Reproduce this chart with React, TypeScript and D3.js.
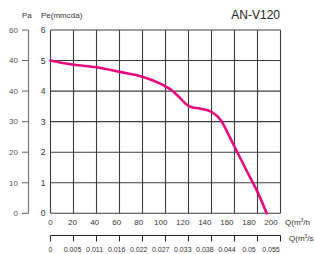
import React, { useRef, useEffect } from 'react';
import * as d3 from 'd3';

const flowM3h = [0, 20, 40, 60, 80, 95, 107, 113, 118, 123, 130, 140, 148, 155, 162, 171, 180, 188];
const pressureMmcda = [5.0, 4.86, 4.78, 4.63, 4.47, 4.25, 3.98, 3.76, 3.57, 3.47, 3.43, 3.32, 3.05, 2.56, 2.03, 1.36, 0.7, 0];

const xTicks = [0, 20, 40, 60, 80, 100, 120, 140, 160, 180, 200];
const yTicks = [0, 1, 2, 3, 4, 5, 6];
const paLabels = ['0', '10', '20', '30', '40', '40', '60'];
const m3sLabels = ['0', '0.005', '0.011', '0.016', '0.022', '0.027', '0.033', '0.038', '0.044', '0.05', '0.055'];

const App = () => {
  const svgRef = useRef(null);

  useEffect(() => {
    const svg = d3.select(svgRef.current);
    svg.selectAll('*').remove();

    const font = '"Liberation Sans", Arial, sans-serif';
    const textColor = '#333';

    const x = d3.scaleLinear().domain([0, 200]).range([50.5, 280.5]);
    const y = d3.scaleLinear().domain([0, 6]).range([213.3, 30]);
    // tick labels in the source drift slightly left of their ticks
    const xLabel = d3.scaleLinear().domain([0, 200]).range([50.5, 271]);

    const g = svg.append('g').attr('font-family', font).attr('fill', textColor);

    // grid
    g.selectAll('.vline')
      .data(xTicks)
      .enter().append('line')
      .attr('x1', d => x(d)).attr('x2', d => x(d))
      .attr('y1', y(0)).attr('y2', y(6))
      .attr('stroke', '#3c3c3c').attr('stroke-width', 1.1);

    g.selectAll('.hline')
      .data(yTicks)
      .enter().append('line')
      .attr('x1', x(0)).attr('x2', x(200))
      .attr('y1', d => y(d)).attr('y2', d => y(d))
      .attr('stroke', '#3c3c3c').attr('stroke-width', 1.1);

    // mmcda labels
    g.selectAll('.ylab')
      .data(yTicks)
      .enter().append('text')
      .attr('x', 43).attr('y', d => y(d)).attr('dy', '0.35em')
      .attr('text-anchor', 'middle').attr('font-size', 8.5)
      .text(d => d);

    // Pa axis
    const paX = 28.5;
    g.append('line')
      .attr('x1', paX).attr('x2', paX).attr('y1', y(0)).attr('y2', y(6))
      .attr('stroke', '#777').attr('stroke-width', 1.2);
    g.selectAll('.patick')
      .data(yTicks)
      .enter().append('line')
      .attr('x1', 22).attr('x2', paX).attr('y1', d => y(d)).attr('y2', d => y(d))
      .attr('stroke', '#666').attr('stroke-width', 1);
    g.selectAll('.palab')
      .data(yTicks)
      .enter().append('text')
      .attr('x', 18).attr('y', d => y(d)).attr('dy', '0.35em')
      .attr('text-anchor', 'end').attr('font-size', 8)
      .attr('fill', '#555')
      .text((d, i) => paLabels[i]);

    g.append('text').attr('x', 22).attr('y', 18).attr('font-size', 8).text('Pa');
    g.append('text').attr('x', 41).attr('y', 18).attr('font-size', 8).text('Pe(mmcda)');
    g.append('text').attr('x', 280).attr('y', 19).attr('text-anchor', 'end')
      .attr('font-size', 12).attr('fill', '#222').text('AN-V120');

    // primary x labels
    g.selectAll('.xlab')
      .data(xTicks)
      .enter().append('text')
      .attr('x', d => xLabel(d)).attr('y', 225)
      .attr('text-anchor', 'middle').attr('font-size', 8)
      .text(d => d);

    const q1 = g.append('text').attr('x', 285).attr('y', 225).attr('font-size', 8);
    q1.append('tspan').text('Q(m');
    q1.append('tspan').attr('font-size', 5).attr('dy', -3).text('3');
    q1.append('tspan').attr('dy', 3).text('/h');

    // secondary m3/s axis
    const axY = 235.5;
    g.append('line')
      .attr('x1', x(0)).attr('x2', x(200)).attr('y1', axY).attr('y2', axY)
      .attr('stroke', '#222').attr('stroke-width', 1.2);
    g.selectAll('.stick')
      .data(xTicks)
      .enter().append('line')
      .attr('x1', d => x(d)).attr('x2', d => x(d)).attr('y1', axY).attr('y2', axY + 6)
      .attr('stroke', '#222').attr('stroke-width', 1);
    g.selectAll('.slab')
      .data(xTicks)
      .enter().append('text')
      .attr('x', d => xLabel(d)).attr('y', 252)
      .attr('text-anchor', 'middle').attr('font-size', 7)
      .text((d, i) => m3sLabels[i]);

    const q2 = g.append('text').attr('x', 289).attr('y', 241).attr('font-size', 8);
    q2.append('tspan').text('Q(m');
    q2.append('tspan').attr('font-size', 5).attr('dy', -3).text('3');
    q2.append('tspan').attr('dy', 3).text('/s');

    // curve
    const points = flowM3h.map((q, i) => [q, pressureMmcda[i]]);
    const line = d3.line()
      .x(d => x(d[0]))
      .y(d => y(d[1]))
      .curve(d3.curveMonotoneX);
    g.append('path')
      .datum(points)
      .attr('d', line)
      .attr('fill', 'none')
      .attr('stroke', '#e6087f')
      .attr('stroke-width', 2.6)
      .attr('stroke-linecap', 'round');
  }, []);

  return (
    <svg ref={svgRef} width={314} height={254}
      style={{ position: 'absolute', left: 0, top: 0, background: '#fff' }} />
  );
};

export default App;
